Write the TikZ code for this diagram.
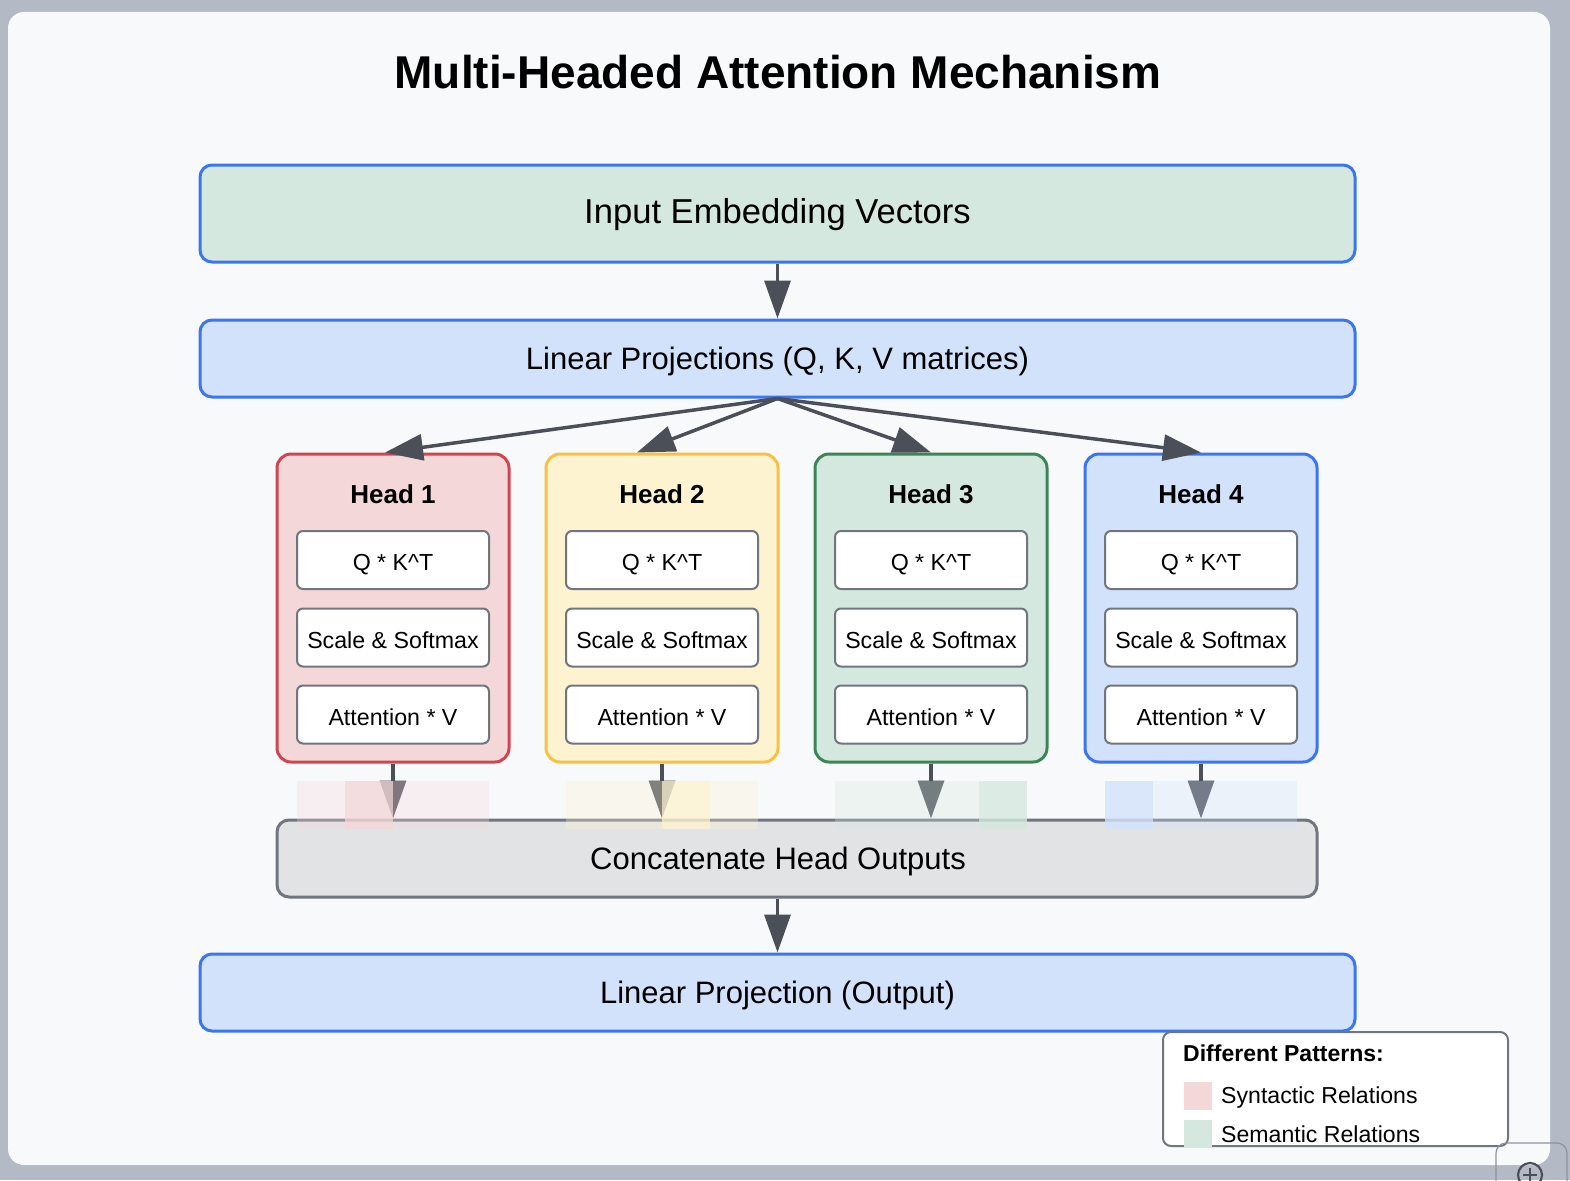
\documentclass[tikz,border=0pt]{standalone}
\usepackage{fontspec}
\setmainfont{Liberation Sans}
\usetikzlibrary{arrows.meta}
\definecolor{pagegray}{HTML}{B3BAC5}
\definecolor{cardbg}{HTML}{F8F9FA}
\definecolor{blueline}{HTML}{3B75F0}
\definecolor{bluefill}{HTML}{D3E2FB}
\definecolor{inputfill}{HTML}{D5E8E0}
\definecolor{redline}{HTML}{D1464E}
\definecolor{pinkfill}{HTML}{F4D7D9}
\definecolor{yellowline}{HTML}{F7C244}
\definecolor{yellowfill}{HTML}{FEF3D0}
\definecolor{greenline}{HTML}{3B8557}
\definecolor{greenfill}{HTML}{D5E8DF}
\definecolor{opline}{HTML}{70767F}
\definecolor{concatfill}{HTML}{E2E3E5}
\definecolor{arrowgray}{HTML}{4B5058}
\definecolor{zoomline}{HTML}{8E95A0}
\begin{document}
\begin{tikzpicture}[x=1pt,y=-1pt,
  wide box/.style={draw=blueline,line width=3pt,rounded corners=12pt,minimum width=1155pt,minimum height=77pt,inner sep=0pt,font=\fontsize{31}{37}\selectfont,text height=22.2pt,text depth=0pt},
  head box/.style={line width=3pt,rounded corners=14pt,minimum width=232pt,minimum height=308pt,inner sep=0pt},
  head title/.style={inner sep=0pt,font=\fontsize{26}{31}\selectfont\bfseries,text height=18.6pt,text depth=0pt},
  opbox/.style={draw=opline,fill=white,line width=2pt,rounded corners=6pt,minimum width=192pt,minimum height=58pt,inner sep=0pt,font=\fontsize{23.2}{28}\selectfont,text height=21pt,text depth=0pt},
  arr/.style={-{Triangle[length=38pt,width=26pt]},color=arrowgray,line width=3.5pt},
  patch/.style={minimum size=48pt,inner sep=0pt,draw=none},
  legend text/.style={anchor=west,inner sep=0pt,font=\fontsize{23.1}{28}\selectfont,text height=16.5pt,text depth=0pt}]

  \useasboundingbox (0,0) rectangle (1570,1180);
  \clip (0,0) rectangle (1570,1180);
  \fill[pagegray] (0,0) rectangle (1570,1180);
  \fill[cardbg, rounded corners=16pt] (8,12) rectangle (1550,1165);

  \node[inner sep=0pt, font=\fontsize{46}{54}\selectfont\bfseries, text height=33pt, text depth=0pt] at (778,72) (title) {Multi-Headed Attention Mechanism};

  \node[wide box, fill=inputfill, minimum height=97pt, font=\fontsize{34.6}{42}\selectfont, text height=20.8pt] at (777.5,213.5) (inp) {Input Embedding Vectors};
  \node[wide box, fill=bluefill] at (777.5,358.5) (proj) {Linear Projections (Q, K, V matrices)};

  % the four heads
  \foreach \n/\cx/\ln/\fl in {1/393/redline/pinkfill, 2/662/yellowline/yellowfill, 3/931/greenline/greenfill, 4/1201/blueline/bluefill} {
    \node[head box, draw=\ln, fill=\fl] at (\cx,608) (h\n) {};
    \node[head title] at (\cx,494) (h\n t) {Head \n};
    \node[opbox] at (\cx,560) (h\n a) {Q * K\^{}T};
    \node[opbox] at (\cx,637.5) (h\n b) {Scale \& Softmax};
    \node[opbox] at (\cx,714.5) (h\n c) {Attention * V};
  }

  \node[wide box, draw=opline, fill=concatfill, minimum width=1040pt] at (797,858.5) (concat) {};
  \node[wide box, draw=none, minimum width=0pt, minimum height=0pt] at (778,858.5) (concatt) {Concatenate Head Outputs};
  \node[wide box, fill=bluefill] at (777.5,992.5) (out) {Linear Projection (Output)};

  \path[arr] (inp) edge (proj);
  \path[arr] (proj.south) edge ([xshift=-8pt]h1.north);
  \path[arr] (proj.south) edge ([xshift=-25pt]h2.north);
  \path[arr] (proj.south) edge (h3.north);
  \path[arr] (proj.south) edge (h4.north);
  \foreach \n in {1,...,4}
    \path[arr] (h\n.south) edge (h\n.south |- concat.north);
  \path[arr] (concat.south -| out.north) edge (out.north);

  % attention patterns
  \foreach \cx/\c/\d in {393/pinkfill/2, 662/yellowfill/3, 931/greenfill/4, 1201/bluefill/1}
    \foreach \i in {1,...,4} {
      \pgfmathsetmacro\op{\i==\d ? 0.8 : 0.3}
      \node[patch, fill=\c, fill opacity=\op] at (\cx-120+48*\i,805) {};
    }

  % legend
  \node[draw=opline, fill=white, line width=2pt, rounded corners=8pt, minimum width=345pt, minimum height=114pt, inner sep=0pt] at (1335.5,1089) (leg) {};
  \node[inner sep=0pt, anchor=west, font=\fontsize{23}{28}\selectfont\bfseries, text height=16.5pt, text depth=0pt] at (1183,1053) (legt) {Different Patterns:};
  \node[patch, minimum size=28pt, fill=pinkfill] at (1197.5,1095.5) (sw1) {};
  \node[patch, minimum size=28pt, fill=greenfill] at (1197.5,1134) (sw2) {};
  \node[legend text] at (1221,1095) (l1) {Syntactic Relations};
  \node[legend text] at (1221,1134) (l2) {Semantic Relations};

  \draw[zoomline, line width=1.2pt, rounded corners=10pt] (1496,1143) rectangle (1567,1230);
  \draw[arrowgray, line width=2.2pt] (1530,1175) circle (12);
  \draw[arrowgray, line width=2.2pt] (1523,1175) -- (1537,1175) (1530,1168) -- (1530,1182);
\end{tikzpicture}
\end{document}
